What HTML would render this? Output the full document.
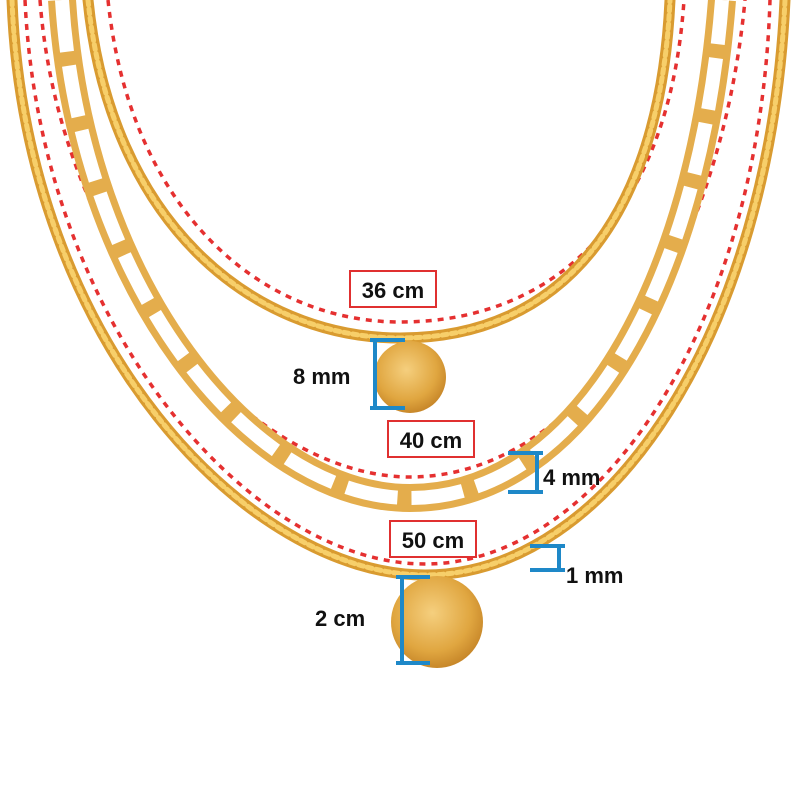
<!DOCTYPE html>
<html><head><meta charset="utf-8"><style>
html,body{margin:0;padding:0;background:#fff;}
svg{display:block}
text{font-family:"Liberation Sans",sans-serif;font-weight:bold;fill:#111;}
</style></head><body>
<svg width="800" height="800" viewBox="0 0 800 800" xmlns="http://www.w3.org/2000/svg">
<defs>
<radialGradient id="g" cx="45%" cy="40%" r="60%">
<stop offset="0" stop-color="#f5cf7e"/><stop offset="0.7" stop-color="#e0a640"/><stop offset="1" stop-color="#c8882a"/>
</radialGradient>
</defs>
<g fill="none" stroke="#e53030" stroke-width="3.5" stroke-dasharray="6 6">
<path d="M108,0 C130,210 260,322 400,322 C560,322 670,210 684,0"/>
<path d="M40,0 C60,265 250,477 410,477 C580,477 720,265 745,0"/>
<path d="M25,0 C40,325 250,564 425,564 C600,564 760,325 770,0"/>
</g>
<g fill="none" stroke-linecap="round">
<path d="M12,0 C25,345 250,575 425,575 C610,575 770,330 785,0" stroke="#d99b30" stroke-width="11"/>
<path d="M12,0 C25,345 250,575 425,575 C610,575 770,330 785,0" stroke="#f7cf6a" stroke-width="5" stroke-dasharray="5 4"/>
<path d="M88,0 C110,220 250,338 400,338 C560,338 660,220 670,0" stroke="#d99b30" stroke-width="11"/>
<path d="M88,0 C110,220 250,338 400,338 C560,338 660,220 670,0" stroke="#f7cf6a" stroke-width="5" stroke-dasharray="5 4"/>
<path d="M62,0 C80,285 250,498 410,498 C580,498 700,285 722,0" stroke="#e4ad4c" stroke-width="28" stroke-linecap="butt"/>
<path d="M62,0 C80,285 250,498 410,498 C580,498 700,285 722,0" stroke="#fff" stroke-width="14" stroke-dasharray="52 14" stroke-linecap="butt"/>
</g>
<circle cx="410" cy="377" r="36" fill="url(#g)"/>
<circle cx="437" cy="622" r="46" fill="url(#g)"/>
<g fill="none" stroke="#1e88c8" stroke-width="4">
<path d="M370,340 H405 M375,340 V408 M370,408 H405"/>
<path d="M508,453 H543 M537,453 V492 M508,492 H543"/>
<path d="M530,546 H565 M559,546 V570 M530,570 H565"/>
<path d="M396,577 H430 M402,577 V663 M396,663 H430"/>
</g>
<g fill="#fff" stroke="#e03030" stroke-width="2">
<rect x="350" y="271" width="86" height="36"/>
<rect x="388" y="421" width="86" height="36"/>
<rect x="390" y="521" width="86" height="36"/>
</g>
<text x="393" y="298" font-size="22" text-anchor="middle">36 cm</text>
<text x="431" y="448" font-size="22" text-anchor="middle">40 cm</text>
<text x="433" y="548" font-size="22" text-anchor="middle">50 cm</text>
<text x="293" y="384" font-size="22">8 mm</text>
<text x="543" y="485" font-size="22">4 mm</text>
<text x="566" y="583" font-size="22">1 mm</text>
<text x="315" y="626" font-size="22">2 cm</text>
</svg>
</body></html>
